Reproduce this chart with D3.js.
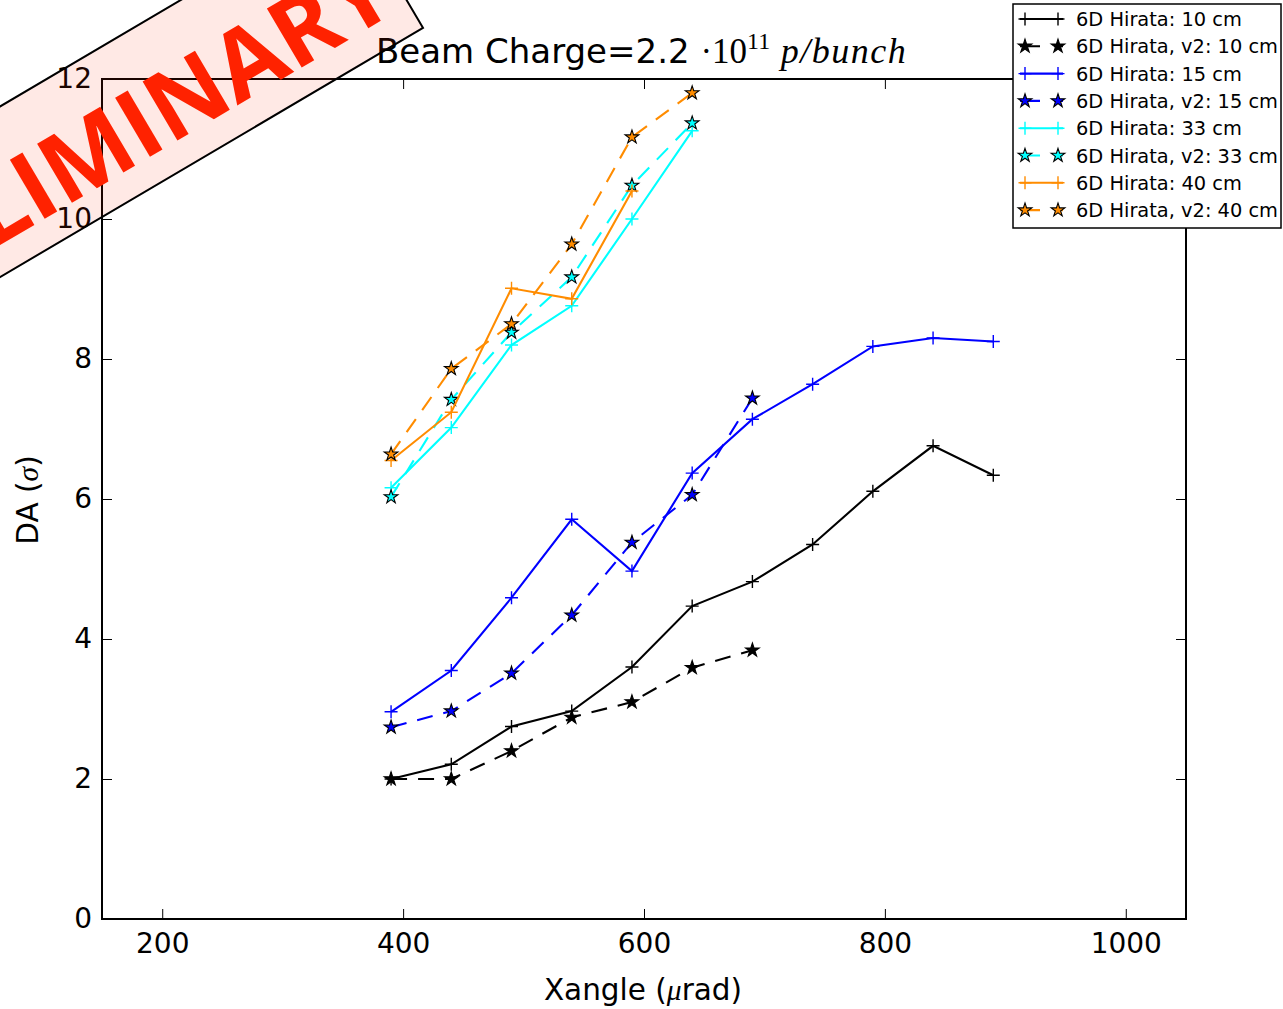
<!DOCTYPE html>
<html><head><meta charset="utf-8">
<script src="https://cdn.jsdelivr.net/npm/d3@7"></script>
<style>body{margin:0;background:#fff}svg{display:block}</style>
</head><body>
<svg id="chart" width="1283" height="1009"></svg>
<script>
// ---- data ----
const xangle = [390, 440, 490, 540, 590, 640, 690, 740, 790, 840, 890];
const da10   = [2.0, 2.21, 2.75, 2.97, 3.6, 4.47, 4.82, 5.35, 6.11, 6.76, 6.34];
const da10v2 = [2.0, 2.0, 2.4, 2.88, 3.1, 3.59, 3.84];
const da15   = [2.96, 3.55, 4.59, 5.71, 4.97, 6.37, 7.14, 7.64, 8.18, 8.3, 8.25];
const da15v2 = [2.74, 2.97, 3.51, 4.34, 5.38, 6.06, 7.44];
const da33   = [6.16, 7.02, 8.2, 8.76, 10.0, 11.26];
const da33v2 = [6.03, 7.42, 8.38, 9.17, 10.48, 11.37];
const da40   = [6.55, 7.24, 9.01, 8.86, 10.4];
const da40v2 = [6.64, 7.86, 8.5, 9.64, 11.17, 11.8];
const seriesNames = ["6D Hirata: 10 cm","6D Hirata, v2: 10 cm","6D Hirata: 15 cm","6D Hirata, v2: 15 cm",
                     "6D Hirata: 33 cm","6D Hirata, v2: 33 cm","6D Hirata: 40 cm","6D Hirata, v2: 40 cm"];
const seriesValues = [da10, da10v2, da15, da15v2, da33, da33v2, da40, da40v2];
const seriesColors = ["#000000","#000000","#0000ff","#0000ff","#00ffff","#00ffff","#ff8c00","#ff8c00"];
const xTicks = [200, 400, 600, 800, 1000];
const yTicks = [0, 2, 4, 6, 8, 10, 12];

// ---- layout ----
const L = 102, R = 1186, T = 79, B = 919;
const svg = d3.select("#chart");
const x = d3.scaleLinear().domain([150, 1050]).range([L, R]);
const y = d3.scaleLinear().domain([0, 12]).range([B, T]);
const SANS = "DejaVu Sans, sans-serif";
const SERIF = "Liberation Serif, DejaVu Serif, serif";

// axes
const tickFont = g => g.selectAll("text").attr("font-family", SANS).attr("font-size", 28).attr("fill", "#000");
svg.append("g").attr("transform", `translate(0,${B})`)
  .call(d3.axisBottom(x).tickValues(xTicks).tickSize(-10).tickPadding(14).tickFormat(d3.format("d")))
  .call(g => g.select(".domain").remove()).call(tickFont)
  .call(g => g.selectAll("line").attr("stroke", "#000").attr("stroke-width", 1));
svg.append("g").attr("transform", `translate(0,${T})`)
  .call(d3.axisTop(x).tickValues(xTicks).tickSize(-10).tickFormat(""))
  .call(g => g.select(".domain").remove())
  .call(g => g.selectAll("line").attr("stroke", "#000").attr("stroke-width", 1));
svg.append("g").attr("transform", `translate(${L},0)`)
  .call(d3.axisLeft(y).tickValues(yTicks).tickSize(-10).tickPadding(10).tickFormat(d3.format("d")))
  .call(g => g.select(".domain").remove()).call(tickFont)
  .call(g => g.selectAll("line").attr("stroke", "#000").attr("stroke-width", 1));
svg.append("g").attr("transform", `translate(${R},0)`)
  .call(d3.axisRight(y).tickValues(yTicks).tickSize(-10).tickFormat(""))
  .call(g => g.select(".domain").remove())
  .call(g => g.selectAll("line").attr("stroke", "#000").attr("stroke-width", 1));

// plot lines
const plotG = svg.append("g");
const line = d3.line().x((d, i) => x(xangle[i])).y(d => y(d));
const starPath = d3.symbol(d3.symbolStar, 58)();
const plusPath = "M-6.5,0H6.5M0,-6.5V6.5";
seriesValues.forEach((vals, k) => {
  const dashed = k % 2 === 1;
  const col = seriesColors[k];
  plotG.append("path").attr("d", line(vals)).attr("fill", "none").attr("stroke", col)
    .attr("stroke-width", 2.1).attr("stroke-dasharray", dashed ? "16,11" : null);
  const pts = plotG.append("g").selectAll("path").data(vals).join("path")
    .attr("transform", (d, i) => `translate(${x(xangle[i])},${y(d)})`);
  if (dashed) pts.attr("d", starPath).attr("fill", col).attr("stroke", "#000").attr("stroke-width", 1.1);
  else pts.attr("d", plusPath).attr("fill", "none").attr("stroke", col).attr("stroke-width", 1.4);
});

// frame
svg.append("rect").attr("x", L).attr("y", T).attr("width", R - L).attr("height", B - T)
  .attr("fill", "none").attr("stroke", "#000").attr("stroke-width", 2);

// title
const title = svg.append("text").attr("x", 376).attr("y", 63).attr("text-anchor", "start")
  .attr("font-size", 34).attr("fill", "#000");
title.append("tspan").attr("font-family", SANS).text("Beam Charge=2.2 ");
title.append("tspan").attr("font-family", SERIF).attr("font-size", 35).text("·10");
title.append("tspan").attr("font-family", SERIF).attr("font-size", 24).attr("dy", -14).text("11");
title.append("tspan").attr("font-family", SERIF).attr("font-size", 36).attr("font-style", "italic")
  .attr("letter-spacing", 1.5).attr("dy", 14).text(" p/bunch");

// axis labels
const xl = svg.append("text").attr("x", 643).attr("y", 1000).attr("text-anchor", "middle")
  .attr("font-size", 29.5).attr("font-family", SANS).attr("fill", "#000");
xl.append("tspan").text("Xangle (");
xl.append("tspan").attr("font-family", SERIF).attr("font-style", "italic").text("μ");
xl.append("tspan").text("rad)");
const yl = svg.append("text").attr("transform", "translate(38,500) rotate(-90)").attr("text-anchor", "middle")
  .attr("font-size", 29.5).attr("font-family", SANS).attr("fill", "#000");
yl.append("tspan").text("DA (");
yl.append("tspan").attr("font-family", SERIF).attr("font-style", "italic").text("σ");
yl.append("tspan").text(")");

// legend
const lg = svg.append("g");
lg.append("rect").attr("x", 1013).attr("y", 4).attr("width", 268).attr("height", 224)
  .attr("fill", "#fff").attr("stroke", "#000").attr("stroke-width", 1.5);
seriesNames.forEach((name, k) => {
  const cy = 19 + k * 27.3;
  const dashed = k % 2 === 1, col = seriesColors[k];
  lg.append("line").attr("x1", 1020).attr("x2", 1063).attr("y1", cy).attr("y2", cy)
    .attr("stroke", col).attr("stroke-width", 2.1).attr("stroke-dasharray", dashed ? "20,14" : null);
  [1025, 1058].forEach(mx => {
    const m = lg.append("path").attr("transform", `translate(${mx},${cy})`);
    if (dashed) m.attr("d", starPath).attr("fill", col).attr("stroke", "#000").attr("stroke-width", 1.1);
    else m.attr("d", plusPath).attr("fill", "none").attr("stroke", col).attr("stroke-width", 1.4);
  });
  lg.append("text").attr("x", 1076).attr("y", cy + 7).attr("font-family", SANS).attr("font-size", 19.4)
    .attr("fill", "#000").text(name);
});

// preliminary stamp
const st = svg.append("g").attr("transform", "translate(385.7,-35.4) rotate(-30.5)");
st.append("rect").attr("x", -1000).attr("y", -73.5).attr("width", 1000).attr("height", 147)
  .attr("fill", "rgba(255,40,0,0.1)").attr("stroke", "#000").attr("stroke-width", 2);
st.append("text").attr("x", -10).attr("y", 46).attr("text-anchor", "end")
  .attr("font-family", "Open Sans, sans-serif").attr("font-weight", 700).attr("font-size", 96)
  .attr("fill", "#ff2200").text("PRELIMINARY");
</script>
</body></html>
